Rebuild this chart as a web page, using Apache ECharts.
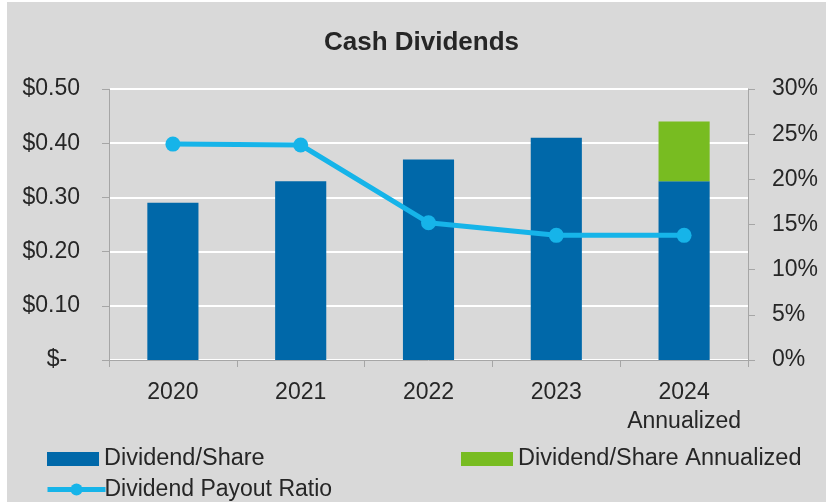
<!DOCTYPE html>
<html>
<head>
<meta charset="utf-8">
<script src="https://cdn.jsdelivr.net/npm/echarts@6/dist/echarts.min.js"></script>
<style>
  html, body { margin: 0; padding: 0; background: #fff; }
  #chart { width: 826px; height: 502px; }
</style>
</head>
<body>
<div id="chart"></div>
<script>
// data
const years = ['2020', '2021', '2022', '2023', '2024\nAnnualized'];
const dividendPerShare = [0.29, 0.33, 0.37, 0.41, 0.33];
const dividendAnnualized = [null, null, null, null, 0.11];
const payoutRatio = [0.239, 0.238, 0.152, 0.138, 0.138];

const leftTicks = { min: 0, max: 0.5, interval: 0.1 };
const rightTicks = { min: 0, max: 0.3, interval: 0.05 };

const FONT = '"Liberation Sans", Arial, sans-serif';
const TEXT = '#262626';
const AXIS = '#a6a6a6';
const BLUE = '#0068a9';
const GREEN = '#78bc21';
const CYAN = '#16b4e9';

const chart = echarts.init(document.getElementById('chart'));

const legendText = { fontFamily: FONT, fontSize: 23.5, color: TEXT };

const option = {
  backgroundColor: '#fff',
  animation: false,
  textStyle: { fontFamily: FONT },
  graphic: [
    {
      type: 'rect',
      z: -10,
      shape: { x: 7, y: 2, width: 819, height: 500 },
      style: { fill: '#d9d9d9' }
    }
  ],
  title: {
    text: 'Cash Dividends',
    left: 319,
    top: 25,
    textStyle: { fontFamily: FONT, fontSize: 26, fontWeight: 'bold', color: TEXT }
  },
  legend: [
    {
      left: 42, top: 442,
      icon: 'rect',
      itemWidth: 52, itemHeight: 14,
      data: ['Dividend/Share'],
      textStyle: legendText
    },
    {
      left: 456, top: 442,
      icon: 'rect',
      itemWidth: 52, itemHeight: 14,
      data: ['Dividend/Share Annualized'],
      textStyle: legendText
    },
    {
      left: 40, top: 473,
      itemWidth: 58, itemHeight: 15,
      data: [{ name: 'Dividend Payout Ratio', lineStyle: { width: 5 } }],
      textStyle: Object.assign({}, legendText, { fontSize: 23, padding: [0, 0, 0, -6] })
    }
  ],
  grid: { left: 109, right: 78, top: 89, bottom: 142 },
  xAxis: {
    type: 'category',
    data: years,
    axisLine: { lineStyle: { color: AXIS, width: 1 } },
    axisTick: { show: true, length: 7, lineStyle: { color: AXIS } },
    axisLabel: { interval: 0, fontFamily: FONT, fontSize: 23, color: TEXT, margin: 18, lineHeight: 29 }
  },
  yAxis: [
    {
      type: 'value',
      min: leftTicks.min, max: leftTicks.max, interval: leftTicks.interval,
      axisLine: { show: true, lineStyle: { color: AXIS } },
      axisTick: { show: true, length: 7, lineStyle: { color: AXIS } },
      splitLine: { lineStyle: { color: '#fff', width: 2 } },
      axisLabel: {
        fontFamily: FONT, fontSize: 23, color: TEXT, margin: 29,
        formatter: v => (v === 0 ? '$-  ' : '$' + v.toFixed(2))
      }
    },
    {
      type: 'value',
      min: rightTicks.min, max: rightTicks.max, interval: rightTicks.interval,
      axisLine: { show: true, lineStyle: { color: AXIS } },
      axisTick: { show: true, length: 7, lineStyle: { color: AXIS } },
      splitLine: { show: false },
      axisLabel: {
        fontFamily: FONT, fontSize: 23, color: TEXT, margin: 24,
        formatter: v => Math.round(v * 100) + '%'
      }
    }
  ],
  series: [
    {
      name: 'Dividend/Share',
      type: 'bar',
      stack: 'div',
      barWidth: '40%',
      data: dividendPerShare,
      itemStyle: { color: BLUE }
    },
    {
      name: 'Dividend/Share Annualized',
      type: 'bar',
      stack: 'div',
      barWidth: '40%',
      data: dividendAnnualized,
      itemStyle: { color: GREEN }
    },
    {
      name: 'Dividend Payout Ratio',
      type: 'line',
      yAxisIndex: 1,
      data: payoutRatio,
      symbol: 'circle',
      symbolSize: 15,
      lineStyle: { color: CYAN, width: 5 },
      itemStyle: { color: CYAN },
      z: 5
    }
  ]
};

chart.setOption(option);
</script>
</body>
</html>
